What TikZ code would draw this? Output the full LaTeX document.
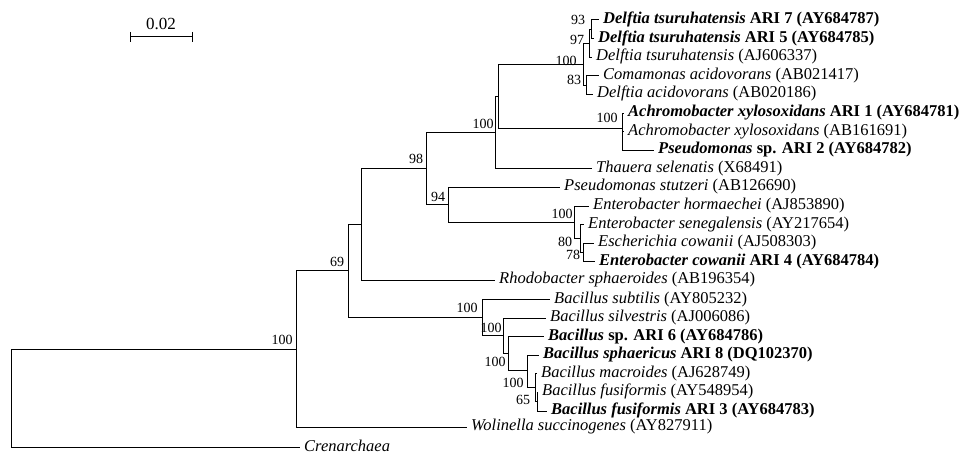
\documentclass[tikz,border=0pt]{standalone}
\usepackage{fontspec}
\setmainfont{Liberation Serif}
\newcommand\taxon[2]{\textit{#1} (#2)}
\newcommand\isolate[2]{\textbf{\textit{#1} #2}}
\tikzset{
 branch/.style={line width=1pt},
 leaf/.style={anchor=west,inner xsep=4pt,inner ysep=0pt,text height=10pt,text depth=3pt,font=\fontsize{16.5}{18}\selectfont},
 boot/.style={inner sep=0pt,font=\fontsize{14}{16}\selectfont},
 scalebar/.style={line width=1pt}
}
\begin{document}
\begin{tikzpicture}[x=1pt,y=-1pt]
\path[use as bounding box] (0,0) rectangle (960,452);
% scale bar
\coordinate (sbL) at (130,37);
\coordinate (sbR) at (192,37);
\draw[scalebar] (sbL) -- (sbR);
\draw[scalebar] ([yshift=5pt]sbL) -- ([yshift=-5pt]sbL);
\draw[scalebar] ([yshift=5pt]sbR) -- ([yshift=-5pt]sbR);
\node[inner sep=0pt,font=\fontsize{17}{18}\selectfont] (sblabel) at (161,24) {0.02};
% leaves
\node[leaf] (ari7) at (599,20) {\isolate{Delftia tsuruhatensis}{ARI 7 (AY684787)}};
\node[leaf] (ari5) at (594,38.6) {\isolate{Delftia tsuruhatensis}{ARI 5 (AY684785)}};
\node[leaf] (dtAJ) at (592,57.2) {\taxon{Delftia tsuruhatensis}{AJ606337}};
\node[leaf] (caAB) at (599,75.8) {\taxon{Comamonas acidovorans}{AB021417}};
\node[leaf] (daAB) at (593,94.4) {\taxon{Delftia acidovorans}{AB020186}};
\node[leaf] (ari1) at (624,113) {\isolate{Achromobacter xylosoxidans}{ARI 1 (AY684781)}};
\node[leaf] (axAB) at (624,131.6) {\taxon{Achromobacter xylosoxidans}{AB161691}};
\node[leaf] (ari2) at (654,150.2) {\isolate{Pseudomonas}{sp. ARI 2 (AY684782)}};
\node[leaf] (tsX) at (592,168.8) {\taxon{Thauera selenatis}{X68491}};
\node[leaf] (psAB) at (560,187.4) {\taxon{Pseudomonas stutzeri}{AB126690}};
\node[leaf] (ehAJ) at (589,206) {\taxon{Enterobacter hormaechei}{AJ853890}};
\node[leaf] (esAY) at (584,224.6) {\taxon{Enterobacter senegalensis}{AY217654}};
\node[leaf] (ecAJ) at (594,243.2) {\taxon{Escherichia cowanii}{AJ508303}};
\node[leaf] (ari4) at (595,261.8) {\isolate{Enterobacter cowanii}{ARI 4 (AY684784)}};
\node[leaf] (rsAB) at (495,280.4) {\taxon{Rhodobacter sphaeroides}{AB196354}};
\node[leaf] (bsuAY) at (550,299.5) {\taxon{Bacillus subtilis}{AY805232}};
\node[leaf] (bsiAJ) at (546,318) {\taxon{Bacillus silvestris}{AJ006086}};
\node[leaf] (ari6) at (544,336.8) {\isolate{Bacillus}{sp. ARI 6 (AY684786)}};
\node[leaf] (ari8) at (539,355.2) {\isolate{Bacillus sphaericus}{ARI 8 (DQ102370)}};
\node[leaf] (bmAJ) at (537,373.6) {\taxon{Bacillus macroides}{AJ628749}};
\node[leaf] (bfAY) at (538,392.2) {\taxon{Bacillus fusiformis}{AY548954}};
\node[leaf] (ari3) at (547,411) {\isolate{Bacillus fusiformis}{ARI 3 (AY684783)}};
\node[leaf] (wsAY) at (467,427) {\taxon{Wolinella succinogenes}{AY827911}};
\node[leaf] (cren) at (300,447.8) {\textit{Crenarchaea}};
% internal nodes
\coordinate (n93) at (591,29.3);
\coordinate (n97) at (589,43.25);
\coordinate (n83) at (586,85.1);
\coordinate (n100a) at (583,64.2);
\coordinate (R) at (622,128);
\coordinate (P) at (498,96.1);
\coordinate (Q) at (495,132.5);
\coordinate (V) at (583,252.5);
\coordinate (U) at (580,238.55);
\coordinate (T) at (574,222.3);
\coordinate (n94) at (448,204.85);
\coordinate (n98) at (426,168.7);
\coordinate (nProt) at (361,224.5);
\coordinate (E) at (537,401.6);
\coordinate (Dp) at (535,387.6);
\coordinate (D) at (527,370.5);
\coordinate (C) at (508,353.6);
\coordinate (B) at (503,335.8);
\coordinate (A) at (482,317.6);
\coordinate (n69) at (348,270.9);
\coordinate (I) at (296,349);
\coordinate (root) at (11,398.4);
% branches
\foreach \p/\c in {root/cren.west,root/I,I/n69,I/wsAY.west,n69/nProt,n69/A,
  nProt/n98,nProt/rsAB.west,n98/Q,n98/n94,Q/P,Q/tsX.west,P/n100a,P/R,
  n100a/n97,n100a/n83,n97/n93,n97/dtAJ.west,n93/ari7.west,n93/ari5.west,
  n83/caAB.west,n83/daAB.west,R/ari1.west,R/axAB.west,R/ari2.west,
  n94/psAB.west,n94/T,T/ehAJ.west,T/U,U/esAY.west,U/V,V/ecAJ.west,V/ari4.west,
  A/bsuAY.west,A/B,B/bsiAJ.west,B/C,C/ari6.west,C/D,D/ari8.west,D/Dp,
  Dp/bmAJ.west,Dp/E,E/bfAY.west,E/ari3.west}
  \draw[branch] (\p) |- (\c);
% bootstrap values
\node[boot] (b93) at (578,20) {93};
\node[boot] (b97) at (577,40) {97};
\node[boot] (b100a) at (566,61) {100};
\node[boot] (b83) at (574,80) {83};
\node[boot] (bR) at (607,118) {100};
\node[boot] (bQ) at (483,124) {100};
\node[boot] (b98) at (416,159) {98};
\node[boot] (b94) at (438,197) {94};
\node[boot] (bT) at (562,214) {100};
\node[boot] (bU) at (565,242) {80};
\node[boot] (bV) at (573,255) {78};
\node[boot] (b69) at (337,262) {69};
\node[boot] (bA) at (467,308) {100};
\node[boot] (bB) at (491,328) {100};
\node[boot] (bC) at (495,362) {100};
\node[boot] (bD) at (513,383) {100};
\node[boot] (bE) at (523,400) {65};
\node[boot] (bI) at (282,340) {100};
\end{tikzpicture}
\end{document}
